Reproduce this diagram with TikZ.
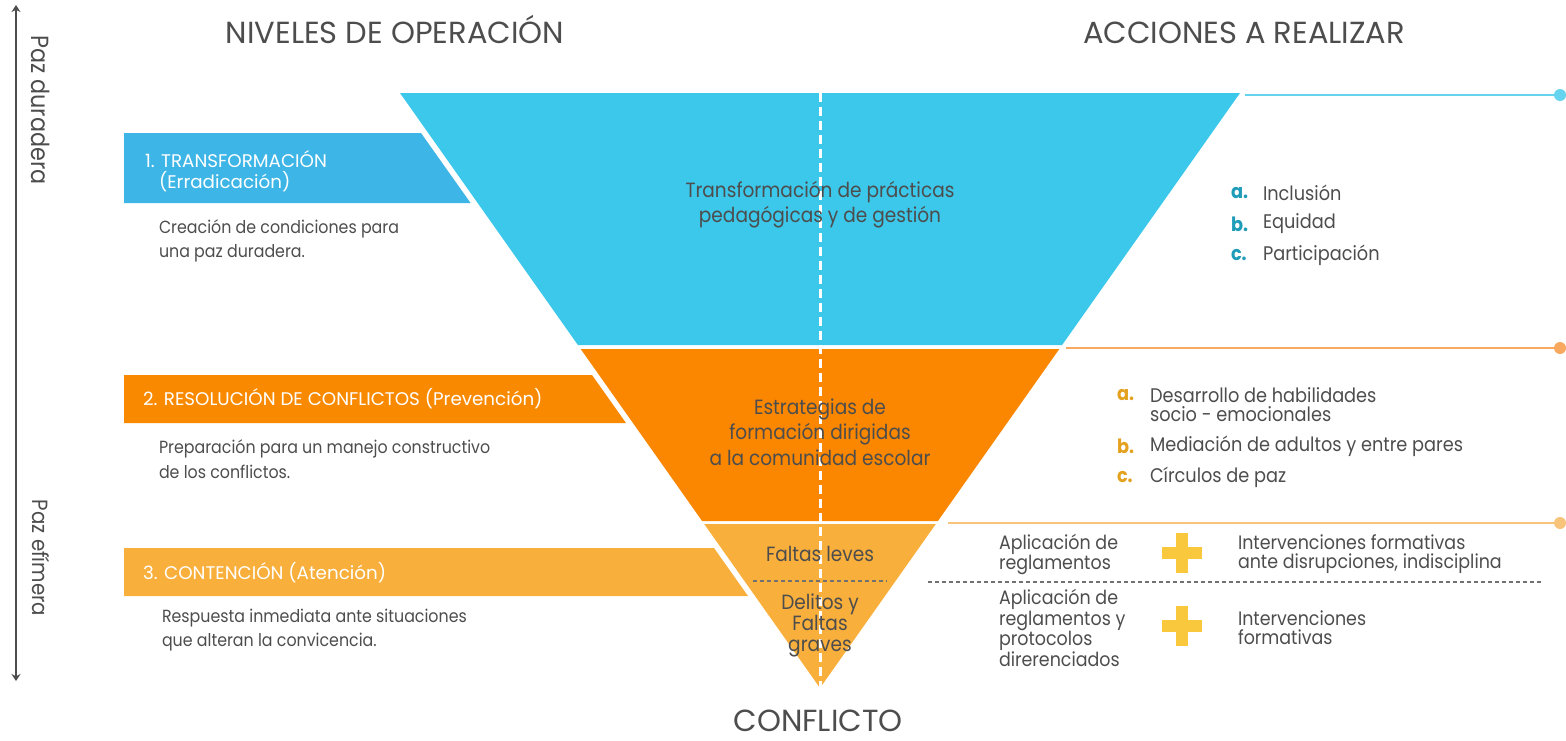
\documentclass[tikz,border=0pt]{standalone}
\usepackage{fontspec}
\setmainfont[FakeStretch=0.9]{Poppins}
\newfontfamily\widefont{Poppins}
\usetikzlibrary{arrows.meta}
\definecolor{tgray}{HTML}{4D4D4D}
\definecolor{triblue}{HTML}{3CC8EA}
\definecolor{banblue}{HTML}{3DB5E6}
\definecolor{triorange}{HTML}{FB8701}
\definecolor{banorange}{HTML}{F98A00}
\definecolor{trilight}{HTML}{F9AF3C}
\definecolor{lineblue}{HTML}{66D4EE}
\definecolor{lineorange}{HTML}{F9A860}
\definecolor{linelight}{HTML}{F8C37A}
\definecolor{plusyellow}{HTML}{F9C83C}
\definecolor{teal}{HTML}{1E9CB8}
\definecolor{gold}{HTML}{E3A11E}
\newcommand{\myfs}[2]{\fontsize{#1}{#2}\selectfont}
\begin{document}
\begin{tikzpicture}[x=1pt,y=-1pt,
  every node/.style={inner sep=0pt,outer sep=0pt},
  head/.style={text=tgray,font=\widefont\myfs{30.5}{32}},
  desc/.style={text=tgray,font=\myfs{17.6}{24.5},align=left,anchor=west},
  bantext/.style={text=white,font=\widefont\myfs{18.3}{23},anchor=west},
  tritext/.style={text=tgray,font=\myfs{20.6}{25.5},align=center},
  item/.style={text=tgray,font=\myfs{19.7}{19},align=left,anchor=west},
  small/.style={text=tgray,font=\myfs{19.4}{19},align=left,anchor=west},
  letter/.style={font=\bfseries\myfs{19.7}{19},anchor=west},
  dot/.style={circle,minimum size=12pt},
  sepdash/.style={draw=tgray!80,line width=1.2pt,dash pattern=on 4pt off 3pt},
  axisline/.style={draw=tgray,line width=1.8pt,{Stealth[length=7pt,width=9pt]}-{Stealth[length=7pt,width=9pt]}}
]
\useasboundingbox (0,0) rectangle (1566,740);

% axis
\coordinate (axT) at (16,5);
\coordinate (axB) at (16,681);
\draw[axisline] (axT) -- (axB);
\node[rotate=-90,text=tgray,font=\myfs{24.8}{26}] (pd) at (41,110) {Paz duradera};
\node[rotate=-90,text=tgray,font=\myfs{22}{24}] (pe) at (41,558) {Paz efímera};

% headers
\node[head,anchor=base] (h1) at (395,43) {NIVELES DE OPERACIÓN};
\node[head,anchor=base] (h2) at (1244,43) {ACCIONES A REALIZAR};
\node[head,anchor=base] (conf) at (818,731) {CONFLICTO};

% triangle bands
\fill[triblue] (400,93) -- (1240,93) -- (1062.1,345) -- (577.9,345) -- cycle;
\fill[triorange] (580.7,349) -- (1059.3,349) -- (937.9,521) -- (702.1,521) -- cycle;
\fill[trilight] (704.2,524) -- (935.8,524) -- (820,688) -- cycle;
\draw[white,line width=3pt,dash pattern=on 9pt off 5pt] (820,93) -- (820,688);
\draw[sepdash] (753,581) -- (887,581);

% triangle texts
\node[tritext] (t1) at (820,204.5) {Transformación de prácticas\\pedagógicas y de gestión};
\node[tritext] (t2) at (820,432) {Estrategias de\\formación dirigidas\\a la comunidad escolar};
\node[tritext] (t3a) at (820,554) {Faltas leves};
\node[tritext,font=\myfs{20.6}{21}] (t3b) at (820,625) {Delitos y\\Faltas\\graves};

% left banners
\fill[banblue] (124,133) -- (421,133) -- (470.6,203) -- (124,203) -- cycle;
\fill[banorange] (124,375) -- (592,375) -- (626,423) -- (124,423) -- cycle;
\fill[trilight] (124,548) -- (714,548) -- (748,596) -- (124,596) -- cycle;

\node[bantext] (b1) at (145,159) {1. TRANSFORMACIÓN};
\node[bantext] (b1b) at (159,182) {(Erradicación)};
\node[bantext] (b2) at (143,399) {2. RESOLUCIÓN DE CONFLICTOS (Prevención)};
\node[bantext] (b3) at (143,573) {3. CONTENCIÓN (Atención)};

\node[desc] (d1) at (159,241) {Creación de condiciones para\\una paz duradera.};
\node[desc] (d2) at (159,459) {Preparación para un manejo constructivo\\de los conflictos.};
\node[desc] (d3) at (162,630) {Respuesta inmediata ante situaciones\\que alteran la convicencia.};

% right lines with dots
\node[dot,fill=lineblue] (e1) at (1560,95) {};
\node[dot,fill=lineorange] (e2) at (1560,348) {};
\node[dot,fill=linelight] (e3) at (1560,523) {};
\coordinate (s1) at (1245,95);
\coordinate (s2) at (1066,348);
\coordinate (s3) at (948,523);
\draw[lineblue,line width=2pt] (s1) -- (e1);
\draw[lineorange,line width=2pt] (s2) -- (e2);
\draw[linelight,line width=2pt] (s3) -- (e3);

% blue list
\node[letter,text=teal] (la) at (1231,193) {a.};
\node[item] (ia) at (1263,193) {Inclusión};
\node[letter,text=teal] (lb) at (1231,224) {b.};
\node[item] (ib) at (1263,224) {Equidad};
\node[letter,text=teal] (lc) at (1231,255) {c.};
\node[item] (ic) at (1263,255) {Participación};

% orange list
\node[letter,text=gold] (oa) at (1117,395) {a.};
\node[item] (oia) at (1150,404.5) {Desarrollo de habilidades\\socio - emocionales};
\node[letter,text=gold] (ob) at (1117,446) {b.};
\node[item] (oib) at (1150,446) {Mediación de adultos y entre pares};
\node[letter,text=gold] (oc) at (1117,477) {c.};
\node[item] (oic) at (1150,477) {Círculos de paz};

% bottom right
\node[small] (r1a) at (999,554.5) {Aplicación de\\reglamentos};
\node[small] (r1c) at (1238,554.5) {Intervenciones formativas\\ante disrupciones, indisciplina};
\draw[sepdash] (928,582) -- (1541,582);
\node[small] (r2a) at (999,628) {Aplicación de\\reglamentos y\\protocolos\\direrenciados};
\node[small] (r2c) at (1238,627.5) {Intervenciones\\formativas};
\fill[plusyellow] (1162,547) rectangle (1202,559);
\fill[plusyellow] (1176,533) rectangle (1188,573);
\fill[plusyellow] (1162,620) rectangle (1202,632);
\fill[plusyellow] (1176,606) rectangle (1188,646);
\end{tikzpicture}
\end{document}
